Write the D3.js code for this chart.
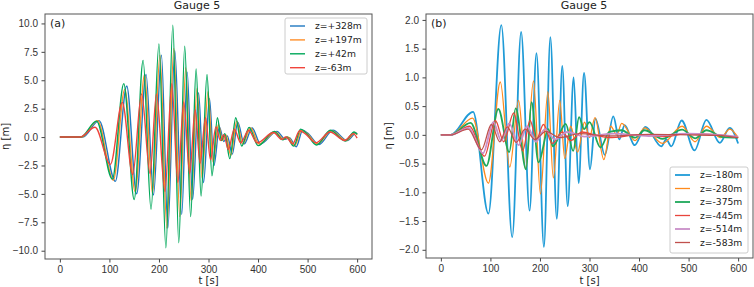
<!DOCTYPE html>
<html>
<head>
<meta charset="utf-8">
<script src="https://cdn.jsdelivr.net/npm/d3@7"></script>
<style>
  body { margin: 0; background: #fff; }
  svg { display: block; font-family: "DejaVu Sans", sans-serif; }
  .tick text { fill: #333; font-size: 10px; }
  .tick line { stroke: #444; }
  .domain { display: none; }
</style>
</head>
<body>
<div class="chart"></div>
<script>
// size of the picture
const WIDTH = 754;
const HEIGHT = 287;

// tick values
const T_TICKS = [0, 100, 200, 300, 400, 500, 600];
const A_TICKS = [-10, -7.5, -5, -2.5, 0, 2.5, 5, 7.5, 10];
const B_TICKS = [-2, -1.5, -1, -0.5, 0, 0.5, 1, 1.5, 2];

// panel (a) labels and series, [t, eta] at turning points
const A_LABELS = ["z=+328m", "z=+197m", "z=+42m", "z=-63m"];
const a328 = [[0,0],[46,0],[79,1.45],[112,-3.9],[135,4.5],[155,-5.0],[174,5.5],[189,-5.1],[205,7.2],[218,-8.0],[232,7.6],[246,-6.8],[257,5.7],[268,-5.5],[280,3.9],[290,-4.0],[302,3.4],[311,-2.5],[322,0.9],[331,-0.4],[338,0.1],[348,-1.5],[359,1.3],[372,-0.6],[388,0.8],[405,-0.6],[438,0.5],[455,-0.2],[463,-0.05],[477,-0.85],[490,0.6],[500,0.35],[523,-0.65],[551,0.6],[580,-0.3],[598,0.35],[600,0.3]];
const a197 = [[0,0],[44,0],[76,1.45],[108,-3.8],[131,4.2],[152,-4.8],[171,5.5],[187,-5.0],[202,7.2],[216,-8.0],[230,7.8],[242,-7.0],[254,6.1],[265,-5.6],[277,4.3],[287,-3.6],[299,4.0],[309,-2.2],[320,1.1],[328,-0.3],[335,0.2],[345,-1.6],[357,1.4],[369,-0.6],[385,0.8],[402,-0.6],[435,0.45],[452,-0.2],[460,0.0],[474,-0.75],[488,0.6],[498,0.35],[520,-0.6],[548,0.55],[578,-0.3],[596,0.4],[600,0.2]];
const a42 = [[0,0],[42,0],[74,1.4],[106,-3.7],[129,4.7],[150,-5.5],[168,6.75],[184,-6.35],[200,8.2],[214,-9.75],[228,9.85],[240,-9.3],[252,8.0],[264,-7.0],[275,6.0],[285,-5.2],[297,5.5],[307,-3.4],[318,1.7],[326,-0.3],[333,0.3],[343,-1.9],[355,1.7],[367,-0.8],[382,0.85],[400,-0.75],[433,0.5],[450,-0.25],[458,0.0],[472,-0.8],[486,0.7],[497,0.35],[518,-0.7],[546,0.6],[576,-0.35],[594,0.45],[600,0.25]];
const a63 = [[0,0],[40,0],[71,0.86],[102,-2.4],[126,3.05],[147,-3.3],[165,3.8],[182,-3.2],[195,3.8],[212,-4.8],[226,4.7],[238,-4.0],[250,3.1],[262,-3.2],[273,2.4],[283,-2.3],[294,1.7],[304,-2.0],[315,0.9],[324,-0.3],[331,0.2],[340,-1.1],[352,0.7],[365,-0.5],[381,0.6],[398,-0.5],[431,0.4],[448,-0.2],[456,0.0],[470,-0.6],[484,0.55],[495,0.3],[517,-0.5],[545,0.45],[575,-0.3],[592,0.3],[600,-0.1]];

// panel (b) labels and series
const B_LABELS = ["z=-180m", "z=-280m", "z=-375m", "z=-445m", "z=-514m", "z=-583m"];
const b180 = [[0,0],[20,0],[65,0.4],[96,-1.37],[122,1.91],[144,-1.78],[162,1.79],[179,-1.32],[193,1.42],[208,-1.95],[221,1.7],[234,-1.46],[245,1.2],[256,-1.24],[268,1.0],[278,-0.84],[289,1.08],[301,-0.6],[312,0.28],[331,-0.35],[348,0.32],[360,-0.08],[371,0.17],[391,-0.18],[413,0.14],[445,-0.2],[455,-0.08],[465,-0.2],[486,0.25],[512,-0.27],[536,0.26],[563,-0.14],[583,0.12],[600,-0.15]];
const b280 = [[0,0],[20,0],[64,0.29],[96,-0.84],[120,0.92],[139,-0.56],[157,0.6],[171,-0.59],[187,0.94],[201,-1.03],[216,0.75],[227,-0.75],[240,0.6],[250,-0.41],[262,0.15],[276,-0.3],[290,0.22],[300,-0.05],[311,0.3],[329,-0.43],[343,0.15],[355,0.0],[365,0.2],[392,-0.1],[411,0.12],[447,-0.15],[487,0.15],[513,-0.12],[536,0.15],[565,-0.05],[583,0.1],[600,-0.05]];
const b375 = [[0,0],[20,0],[60,0.21],[92,-0.54],[116,0.45],[138,-0.3],[151,0.46],[172,-0.6],[183,0.57],[197,-0.48],[217,0.1],[226,-0.2],[252,0.19],[267,-0.28],[279,0.31],[289,0.1],[300,0.22],[322,-0.22],[340,0.05],[365,0.08],[392,-0.05],[411,0.08],[447,-0.07],[487,0.09],[513,-0.06],[536,0.08],[570,-0.04],[600,-0.05]];
const b445 = [[0,0],[20,0],[58,0.15],[88,-0.37],[110,0.25],[127,-0.12],[147,0.38],[165,-0.28],[180,0.25],[193,-0.08],[207,0.18],[225,-0.15],[245,0.05],[262,-0.1],[285,0.05],[310,0.0],[340,-0.05],[400,0.0],[450,-0.03],[500,0.02],[560,0.0],[600,-0.05]];
const b514 = [[0,0],[20,0],[56,0.12],[85,-0.32],[106,0.22],[122,-0.1],[138,0.2],[157,-0.18],[174,0.15],[192,-0.12],[210,0.1],[230,-0.08],[255,0.05],[290,-0.03],[350,0.02],[420,-0.02],[500,0.02],[600,-0.03]];
const b583 = [[0,0],[20,0],[55,0.1],[82,-0.26],[102,0.18],[119,-0.12],[134,0.14],[152,-0.13],[170,0.1],[190,-0.08],[212,0.06],[240,-0.05],[280,0.02],[340,-0.02],[420,0.01],[500,0.0],[560,-0.01],[600,-0.05]];

const A_COLORS = ["#1f78c1", "#ff8f2a", "#00a85a", "#f0443c"];
const B_COLORS = ["#1f9bd7", "#ff8a1c", "#1ea85a", "#e8453c", "#c98ec8", "#c0504d"];
const B_WIDTHS = [1.8, 1.3, 1.8, 1.3, 1.8, 1.3];

var svg = d3
  .select(".chart")
  .append("svg")
  .attr("width", WIDTH)
  .attr("height", HEIGHT);

// matplotlib style 5% padding on a domain
const pad = (ext) => {
  var d = (ext[1] - ext[0]) * 0.05;
  return [ext[0] - d, ext[1] + d];
};

const MakePanel = (p) => {
  var all = p.series.flat();
  var x = d3.scaleLinear().domain(pad(d3.extent(all, (d) => d[0]))).range([p.left, p.right]);
  var y = d3.scaleLinear().domain(pad(d3.extent(all, (d) => d[1]))).range([p.bottom, p.top]);

  svg.append("clipPath")
    .attr("id", "clip" + p.id)
    .append("rect")
    .attr("x", p.left)
    .attr("y", p.top)
    .attr("width", p.right - p.left)
    .attr("height", p.bottom - p.top);

  var line = d3.line()
    .x((d) => x(d[0]))
    .y((d) => y(d[1]))
    .curve(d3.curveMonotoneX);

  svg.append("g")
    .attr("clip-path", "url(#clip" + p.id + ")")
    .selectAll("path")
    .data(p.series)
    .join("path")
    .attr("d", line)
    .attr("fill", "none")
    .attr("stroke", (d, i) => p.colors[i])
    .attr("stroke-width", (d, i) => p.widths[i])
    .attr("stroke-linejoin", "round");

  svg.append("g")
    .attr("transform", `translate(0,${p.bottom})`)
    .call(d3.axisBottom(x).tickValues(T_TICKS).tickSize(3.5).tickPadding(3.5).tickFormat(d3.format("d")));

  svg.append("g")
    .attr("transform", `translate(${p.left},0)`)
    .call(d3.axisLeft(y).tickValues(p.yticks).tickSize(3.5).tickPadding(3.5).tickFormat(d3.format(".1f")));

  // frame
  svg.append("rect")
    .attr("x", p.left)
    .attr("y", p.top)
    .attr("width", p.right - p.left)
    .attr("height", p.bottom - p.top)
    .attr("fill", "none")
    .attr("stroke", "#555")
    .attr("stroke-width", 1);

  svg.append("text")
    .attr("x", p.titleX)
    .attr("y", 9)
    .attr("text-anchor", "middle")
    .attr("font-size", 11)
    .attr("fill", "#222")
    .text("Gauge 5");

  svg.append("text")
    .attr("x", p.left + 5)
    .attr("y", p.top + 13)
    .attr("font-size", 11)
    .attr("fill", "#222")
    .text(p.tag);

  svg.append("text")
    .attr("x", (p.left + p.right) / 2)
    .attr("y", 284)
    .attr("text-anchor", "middle")
    .attr("font-size", 10)
    .attr("fill", "#222")
    .text("t [s]");

  svg.append("text")
    .attr("transform", `translate(${p.ylabX},${(p.top + p.bottom) / 2}) rotate(-90)`)
    .attr("text-anchor", "middle")
    .attr("font-size", 10)
    .attr("fill", "#222")
    .text("η [m]");

  // legend
  var lg = svg.append("g").attr("transform", `translate(${p.leg.x},${p.leg.y})`);
  lg.append("rect")
    .attr("width", p.leg.w)
    .attr("height", p.leg.h)
    .attr("rx", 2)
    .attr("fill", "#fff")
    .attr("fill-opacity", 0.8)
    .attr("stroke", "#ccc");
  var rows = lg.selectAll("g.row")
    .data(p.labels)
    .join("g")
    .attr("class", "row")
    .attr("transform", (d, i) => `translate(0,${8 + i * p.leg.step})`);
  rows.append("line")
    .attr("x1", 5)
    .attr("x2", 20)
    .attr("stroke", (d, i) => p.colors[i])
    .attr("stroke-width", (d, i) => p.widths[i]);
  rows.append("text")
    .attr("x", 30)
    .attr("dy", "0.35em")
    .attr("font-size", 9.2)
    .attr("fill", "#222")
    .text((d) => d);
};

MakePanel({
  id: "a", tag: "(a)",
  left: 45, right: 372, top: 14, bottom: 259,
  titleX: 197, ylabX: 9,
  series: [a328, a197, a42, a63],
  labels: A_LABELS, colors: A_COLORS, widths: [1.4, 1.4, 1.4, 1.4],
  yticks: A_TICKS,
  leg: { x: 285, y: 18, w: 82, h: 56, step: 13.9 },
});

MakePanel({
  id: "b", tag: "(b)",
  left: 426, right: 753, top: 14, bottom: 258,
  titleX: 584, ylabX: 392,
  series: [b180, b280, b375, b445, b514, b583],
  labels: B_LABELS, colors: B_COLORS, widths: B_WIDTHS,
  yticks: B_TICKS,
  leg: { x: 670, y: 167, w: 78, h: 86, step: 13.5 },
});
</script>
</body>
</html>
